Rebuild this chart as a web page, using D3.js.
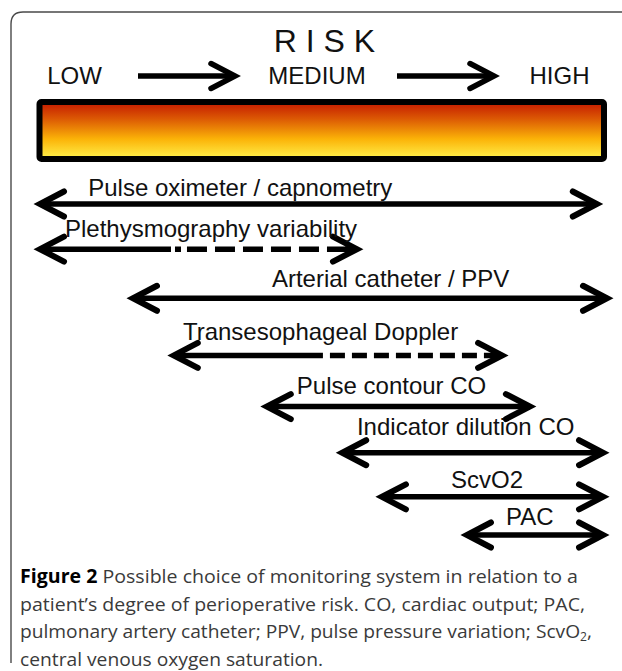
<!DOCTYPE html>
<html>
<head>
<meta charset="utf-8">
<script src="https://cdn.jsdelivr.net/npm/d3@7"></script>
<style>
  html, body { margin: 0; padding: 0; background: #fff; }
  svg { display: block; }
</style>
</head>
<body>
<svg id="chart" width="622" height="671"></svg>
<script>
// ---------------- DATA ----------------
const riskLevels = ["LOW", "MEDIUM", "HIGH"];
const riskTitle = "R I S K";
const monitors = [
  "Pulse oximeter / capnometry",
  "Plethysmography variability",
  "Arterial catheter / PPV",
  "Transesophageal Doppler",
  "Pulse contour CO",
  "Indicator dilution CO",
  "ScvO2",
  "PAC"
];
// applicable risk range (0 = lowest, 100 = highest)
const riskFrom   = [0,    0,    16.4, 23.6, 40.0, 53.3, 60.3, 75.3];
const riskTo     = [98.2, 55.9, 100,  81.5, 86.4, 99.3, 99.3, 99.3];
// point from which applicability is uncertain (dashed), null = fully solid
const uncertainFrom = [null, 23.1, null, 49.9, null, null, null, null];
// where each label starts, in risk units
const labelAt    = [8.5, 4.4, 40.9, 25.2, 45.3, 55.9, 72.5, 82.2];
const captionLines = [
  [{t: "Figure 2", b: true}, {t: " Possible choice of monitoring system in relation to a"}],
  [{t: "patient\u2019s degree of perioperative risk. CO, cardiac output; PAC,"}],
  [{t: "pulmonary artery catheter; PPV, pulse pressure variation; ScvO"}, {t: "2", sub: true}, {t: ","}],
  [{t: "central venous oxygen saturation."}]
];

// ---------------- LAYOUT ----------------
const rowNudge = [-1, -3, -1, 9, 13, 12, 9, 0];
const labelDy  = [-8, -12, -11, -15, -13, -18, -9, -10];
const captionWidths = [558, 565, 572, 303];

const svg = d3.select("#chart");
const x = d3.scaleLinear().domain([0, 100]).range([40, 607]);
const row = d3.scaleLinear().domain([0, monitors.length - 1]).range([205, 535]);
const yOf = i => row(i) + rowNudge[i];

// frame
svg.append("path")
  .attr("d", "M11,663 L11,24 Q11,12 23,12 L640,12")
  .attr("fill", "none").attr("stroke", "#4a4a4a").attr("stroke-width", 1.4);

// title
svg.append("text").attr("x", 324.5).attr("y", 52).attr("text-anchor", "middle")
  .attr("font-family", "Liberation Sans, Arial, sans-serif").attr("font-size", 32)
  .attr("fill", "#111").text(riskTitle);

// risk levels
const levelX = d3.scalePoint().domain(riskLevels).range([74.5, 559.5]);
svg.selectAll("text.level").data(riskLevels).join("text").attr("class", "level")
  .attr("x", d => levelX(d)).attr("y", 84).attr("text-anchor", "middle")
  .attr("font-family", "Liberation Sans, Arial, sans-serif").attr("font-size", 24)
  .attr("fill", "#111").text(d => d);

function head(g, tipX, y, dir, sw) {
  g.append("path")
    .attr("d", `M${tipX - dir * 24},${y - 12.5} L${tipX},${y} L${tipX - dir * 24},${y + 12.5}`)
    .attr("fill", "none").attr("stroke", "#000").attr("stroke-width", sw)
    .attr("stroke-linecap", "round").attr("stroke-linejoin", "miter");
}

// header arrows between levels
const hdr = svg.append("g");
[[138, 235], [397, 494]].forEach(([a, b]) => {
  hdr.append("line").attr("x1", a).attr("x2", b - 3).attr("y1", 76).attr("y2", 76)
    .attr("stroke", "#000").attr("stroke-width", 5.5);
  head(hdr, b, 76, 1, 5.5);
});

// gradient bar
const defs = svg.append("defs");
const grad = defs.append("linearGradient").attr("id", "riskGrad")
  .attr("x1", 0).attr("y1", 0).attr("x2", 0).attr("y2", 1);
[["0%", "#c41800"], ["30%", "#dc5a04"], ["65%", "#fbb308"], ["100%", "#fff24c"]]
  .forEach(([o, c]) => grad.append("stop").attr("offset", o).attr("stop-color", c));
svg.append("rect").attr("x", x(0) - 0.5).attr("y", 102).attr("width", x(100) - x(0) - 2.5).attr("height", 57)
  .attr("rx", 2).attr("fill", "url(#riskGrad)").attr("stroke", "#000").attr("stroke-width", 6);

// monitor arrows
const arrows = svg.append("g");
monitors.forEach((m, i) => {
  const y = yOf(i);
  const x0 = x(riskFrom[i]), x1 = x(riskTo[i]);
  const g = arrows.append("g");
  const solidEnd = uncertainFrom[i] == null ? x1 - 3 : x(uncertainFrom[i]);
  g.append("line").attr("x1", x0 + 3).attr("x2", solidEnd).attr("y1", y).attr("y2", y)
    .attr("stroke", "#000").attr("stroke-width", 5.5);
  if (uncertainFrom[i] != null) {
    const len = (x1 - 10) - solidEnd;
    let pattern;
    if (i === 1) { // dash-dot start
      pattern = [0, 4, 6, 6];
      while (d3.sum(pattern) < len + 40) pattern.push(20, 8);
    } else {
      pattern = [0, 7];
      while (d3.sum(pattern) < len + 40) pattern.push(15, 7);
    }
    g.append("line").attr("x1", solidEnd).attr("x2", x1 - 10).attr("y1", y).attr("y2", y)
      .attr("stroke", "#000").attr("stroke-width", 5.5)
      .attr("stroke-dasharray", pattern.join(" "));
    g.append("line").attr("x1", x1 - 12).attr("x2", x1 - 3).attr("y1", y).attr("y2", y)
      .attr("stroke", "#000").attr("stroke-width", 5.5);
  }
  head(g, x0, y, -1, 6);
  head(g, x1, y, 1, 6);
  g.append("text").attr("x", x(labelAt[i])).attr("y", y + labelDy[i])
    .attr("font-family", "Liberation Sans, Arial, sans-serif").attr("font-size", 24)
    .attr("fill", "#111").text(m);
});

// caption
const cap = svg.append("g");
captionLines.forEach((line, li) => {
  const t = cap.append("text").attr("x", 20).attr("y", 583 + li * 27.7)
    .attr("font-family", "Open Sans, Noto Sans, sans-serif").attr("font-size", 19)
    .attr("fill", "#3a3a3a")
    .attr("textLength", captionWidths[li]).attr("lengthAdjust", "spacingAndGlyphs");
  line.forEach(s => {
    const ts = t.append("tspan").text(s.t);
    if (s.b) ts.attr("font-weight", "bold").attr("fill", "#000");
    if (s.sub) ts.attr("font-size", 12).attr("baseline-shift", "-25%");
  });
});
</script>
</body>
</html>
